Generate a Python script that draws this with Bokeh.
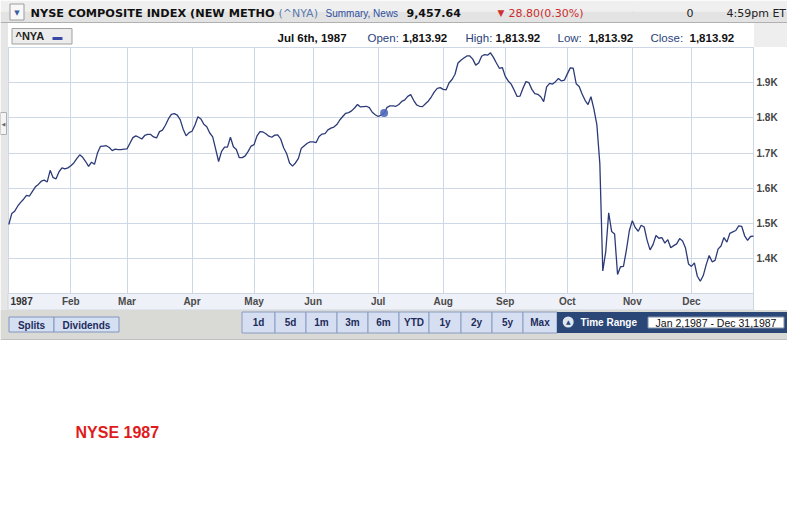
from bokeh.plotting import figure
from bokeh.models import Range1d, FixedTicker
from bokeh.core.properties import value
from bokeh.embed import file_html
from bokeh.resources import INLINE

# ---- data: NYSE Composite daily closes, 1987 (one value per trading day) ----
closes = [
    1497, 1528, 1535, 1549, 1560, 1569, 1580, 1578, 1591, 1604,
    1611, 1620, 1623, 1618, 1651, 1630, 1627, 1647, 1658, 1655,
    1658, 1664, 1672, 1684, 1695, 1688, 1676, 1662, 1674, 1668,
    1700, 1719, 1720, 1721, 1716, 1707, 1711, 1710, 1710, 1711,
    1712, 1728, 1744, 1749, 1745, 1740, 1750, 1753, 1753, 1746,
    1743, 1761, 1765, 1779, 1797, 1810, 1812, 1808, 1795, 1768,
    1749, 1758, 1762, 1780, 1803, 1797, 1782, 1775, 1757, 1746,
    1711, 1676, 1705, 1717, 1717, 1745, 1718, 1710, 1687, 1687,
    1692, 1705, 1720, 1724, 1749, 1761, 1760, 1755, 1748, 1745,
    1751, 1752, 1740, 1715, 1699, 1672, 1663, 1672, 1685, 1714,
    1721, 1728, 1732, 1732, 1730, 1747, 1754, 1755, 1766, 1771,
    1774, 1781, 1794, 1804, 1813, 1815, 1820, 1828, 1838, 1831,
    1832, 1833, 1829, 1816, 1809, 1804, 1808, 1814, 1830, 1834,
    1834, 1833, 1838, 1847, 1851, 1861, 1866, 1850, 1837, 1833,
    1832, 1840, 1848, 1860, 1874, 1884, 1886, 1881, 1880, 1900,
    1909, 1924, 1956, 1964, 1970, 1976, 1976, 1967, 1950, 1956,
    1975, 1980, 1978, 1985, 1972, 1956, 1941, 1943, 1918, 1905,
    1896, 1879, 1861, 1862, 1884, 1903, 1900, 1881, 1869, 1867,
    1860, 1846, 1888, 1898, 1896, 1903, 1912, 1905, 1907,
    1925, 1942, 1941, 1897, 1889, 1868, 1850, 1838, 1860, 1825,
    1780, 1670, 1365, 1420, 1530, 1477, 1470, 1355, 1377, 1378,
    1425, 1480, 1508, 1488, 1478, 1495, 1490, 1452, 1425, 1440,
    1466, 1458, 1460, 1444, 1454, 1431, 1437, 1442, 1457, 1450,
    1430, 1385, 1378, 1388, 1350, 1336, 1352, 1383, 1409, 1391,
    1395, 1427, 1436, 1460, 1447, 1472, 1476, 1480, 1493, 1492,
    1465, 1452, 1463, 1464,
]
days = list(range(len(closes)))

month_first_day = [0, 21, 40, 62, 83, 103, 125, 147, 168, 189, 211, 231]
month_labels = ["", "Feb", "Mar", "Apr", "May", "Jun", "Jul", "Aug", "Sep", "Oct", "Nov", "Dec"]
year_label = "1987"
last_day = 252

y_ticks = [1400, 1500, 1600, 1700, 1800, 1900]
y_tick_labels = ["1.4K", "1.5K", "1.6K", "1.7K", "1.8K", "1.9K"]
y_min, y_max = 1301, 2000

marker_day = 127          # Jul 6th, 1987
marker_value = 1813.92

range_buttons = ["1d", "5d", "1m", "3m", "6m", "YTD", "1y", "2y", "5y", "Max"]

# ---- page geometry (pixels) ----
W, H = 787, 495
PL, PR, PT, PB = 8, 753, 47, 293          # plot box inside the page
x0, x1 = -0.1, float(last_day)
xs = (x1 - x0) / (PR - PL)                # days per pixel
ys = (y_max - y_min) / (PB - PT)          # index points per pixel

p = figure(width=W, height=H, min_border=0,
           x_range=Range1d(x0 - PL * xs, x1 + (W - PR) * xs),
           y_range=Range1d(y_min - (H - PB) * ys, y_max + PT * ys),
           output_backend="svg", toolbar_location=None,
           x_axis_location="below", y_axis_location="right")
p.extra_x_ranges = {"px": Range1d(0, W)}
p.extra_y_ranges = {"px": Range1d(H, 0)}
p.background_fill_color = "white"
p.border_fill_color = "white"
p.outline_line_color = None

grid_color = "#cdd7e6"
p.xgrid.ticker = FixedTicker(ticks=month_first_day + [last_day])
p.ygrid.ticker = FixedTicker(ticks=y_ticks + [y_max])
p.xgrid.grid_line_color = grid_color
p.ygrid.grid_line_color = grid_color

xa = p.xaxis[0]
xa.ticker = FixedTicker(ticks=month_first_day)
xa.fixed_location = y_min
xa.major_label_overrides = {d: l for d, l in zip(month_first_day, month_labels)}
xa.axis_line_color = None
xa.major_tick_line_color = None
xa.minor_tick_line_color = None
xa.major_tick_out = 0
xa.major_tick_in = 0
xa.minor_tick_out = 0
xa.major_label_text_font = "Liberation Sans"
xa.major_label_text_font_style = "bold"
xa.major_label_text_font_size = "10px"
xa.major_label_text_color = "#4a4a4a"
xa.major_label_standoff = 2

ya = p.yaxis[0]
ya.ticker = FixedTicker(ticks=y_ticks)
ya.fixed_location = x1
ya.major_label_overrides = {t: l for t, l in zip(y_ticks, y_tick_labels)}
ya.axis_line_color = None
ya.major_tick_line_color = None
ya.minor_tick_line_color = None
ya.major_tick_out = 0
ya.major_tick_in = 0
ya.minor_tick_out = 0
ya.major_label_text_font = "Liberation Sans"
ya.major_label_text_font_style = "bold"
ya.major_label_text_font_size = "10px"
ya.major_label_text_color = "#444444"
ya.major_label_standoff = 3


# ---- page chrome, drawn in pixel units ----
def box(l, t, r, b, fill, line=None):
    p.quad(left=[l], right=[r], top=[t], bottom=[b], fill_color=fill,
           line_color=line, line_width=1, x_range_name="px", y_range_name="px")


def text(x, y, s, size, color, bold=False, font="Liberation Sans", align="left"):
    p.text(x=[x], y=[y], text=[s], text_font=value(font), text_font_size=size,
           text_color=color, text_font_style="bold" if bold else "normal",
           text_align=align, text_baseline="middle", x_range_name="px", y_range_name="px")


# header bar
box(0, 0, W, 11, "#efefef")
box(0, 11, W, 22, "#e3e3e3")
box(0, 21.5, W, 22.5, "#b0b0b0")
box(9.5, 3.5, 23.5, 19.5, "#f8f8f8", "#9c9c9c")
text(16.5, 12, "\u25BC", "7px", "#3a5fa0", font="DejaVu Sans", align="center")
text(30, 12.5, "NYSE COMPOSITE INDEX (NEW METHO", "11.3px", "#111111", True, "DejaVu Sans")
text(278, 12.5, "(^NYA)", "11px", "#5b79ad", False, "DejaVu Sans")
text(325, 12.5, "Summary, News", "10px", "#2f4f9f")
text(406, 12.5, "9,457.64", "11px", "#111111", True, "DejaVu Sans")
text(497, 12, "\u25BC", "9px", "#d03030", False, "DejaVu Sans")
text(508, 12.5, "28.80(0.30%)", "11px", "#cc2b2b", False, "DejaVu Sans")
text(686, 12.5, "0", "11px", "#222222", False, "DejaVu Sans")
text(726, 12.5, "4:59pm ET", "11px", "#222222", False, "DejaVu Sans")

# info row
box(0, 22.5, W, 46.5, "#ffffff")
box(753.5, 22.5, W, 46.5, "#eeeeee")
box(11.5, 28, 71.5, 43.5, "#ececec", "#a0a0a0")
text(15, 35.5, "^NYA", "11px", "#222222", True)
box(52, 36.5, 62, 39.5, "#3848a8")
info_font = "11.5px"
text(277, 37, "Jul 6th, 1987", info_font, "#111111", True)
for lab, lx, vx in [("Open:", 367, 402), ("High:", 465, 495), ("Low:", 557, 588), ("Close:", 650, 689)]:
    text(lx, 37, lab, info_font, "#2b3f7e")
    text(vx, 37, "1,813.92", info_font, "#111111", True)

# side margins of the plot box
box(0, 22.5, 7.5, 339, "#e6e6e6")
box(0, 112, 6, 134, "#f4f4f4", "#b0b0b0")
text(3, 123, "\u25C0", "5px", "#666666", font="DejaVu Sans", align="center")
box(753.5, 46.5, W, 309.5, "#ffffff")

# x-axis strip, bottom button bar, white page below
box(7.5, 293, 753, 309.5, "#eef1f8", "#cfd7e3")
text(10, 300, year_label, "10px", "#333333", True)
box(0, 309.5, W, 339, "#d9d9d5")
box(0, 338.5, W, 339.5, "#c0c0c0")
box(0, 339.5, W, H, "#ffffff")

box(8.5, 316.5, 53.5, 331.5, "#d5dff2", "#8295c0")
box(53.5, 316.5, 118.5, 331.5, "#d5dff2", "#8295c0")
text(31, 324.5, "Splits", "10px", "#1e2c5c", True, align="center")
text(86, 324.5, "Dividends", "10px", "#1e2c5c", True, align="center")

edges = [241, 274, 305, 336, 367, 398, 428, 460, 491, 522, 556]
for i, lab in enumerate(range_buttons):
    box(edges[i] + 0.5, 311.5, edges[i + 1] + 0.5, 332.5, "#d6dff1", "#8a9cc2")
    text((edges[i] + edges[i + 1]) / 2 + 0.5, 322, lab, "10px", "#1e2c5c", True, align="center")

box(556.5, 311.5, W, 332.5, "#2a4777")
p.scatter([567.7], [321.5], size=11, fill_color="#dfe6f2", line_color=None,
          x_range_name="px", y_range_name="px")
text(567.7, 321, "\u25B2", "6px", "#2a4777", False, "DejaVu Sans", align="center")
text(580, 322, "Time Range", "10px", "#ffffff", True)
box(647.5, 316.5, 783.5, 327.5, "#ffffff", "#8090a8")
text(715.5, 322, "Jan 2,1987 - Dec 31,1987", "10.5px", "#111111", align="center")

text(75, 432, "NYSE 1987", "16px", "#e01b1b", True)

# ---- the data ----
p.line(days, closes, line_color="#2c3a78", line_width=1.3)
p.scatter([marker_day], [marker_value], size=8, fill_color="#5068b8", line_color=None, fill_alpha=0.9)

open("out.html", "w").write(file_html(p, INLINE))
